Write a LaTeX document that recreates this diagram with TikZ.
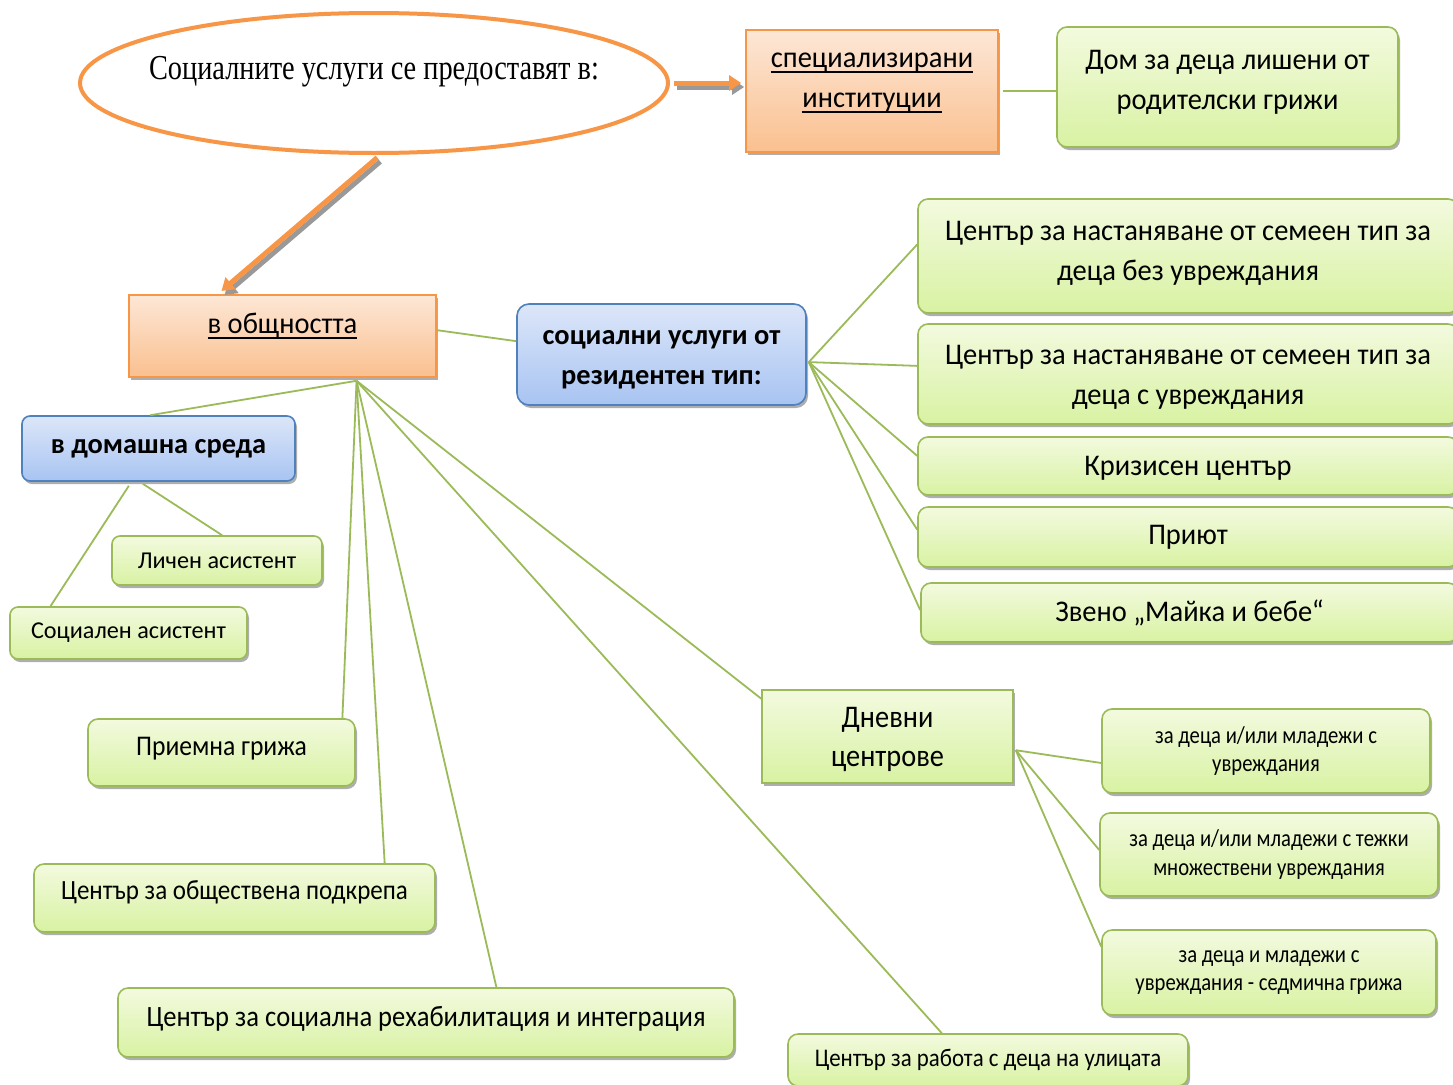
\documentclass[tikz,border=0pt]{standalone}
\usepackage{fontspec}
\setmainfont{Carlito}
\newfontfamily\tnr[FakeStretch=0.81]{Liberation Serif}
\newfontfamily\mainfnt[FakeStretch=0.95]{Carlito}
\newfontfamily\condfont[FakeStretch=0.9]{Carlito}
\newfontfamily\narrowfont[FakeStretch=0.85]{Carlito}
\newcommand{\myul}[1]{\leavevmode\setbox0=\hbox{#1}\rlap{\rule[-5.5pt]{\wd0}{1.8pt}}\box0}
\usetikzlibrary{shadows,arrows.meta,calc,shapes.geometric}
\definecolor{gtop}{HTML}{F3FADF}
\definecolor{gbot}{HTML}{D8F2A2}
\definecolor{gbrd}{HTML}{9BBB59}
\definecolor{otop}{HTML}{FDE7D6}
\definecolor{obot}{HTML}{FAC08F}
\definecolor{obrd}{HTML}{F79646}
\definecolor{btop}{HTML}{DCE6F9}
\definecolor{bbot}{HTML}{A8C4F2}
\definecolor{bbrd}{HTML}{4F81BD}
\tikzset{
  shd/.style={drop shadow={shadow xshift=2pt, shadow yshift=-3pt, fill=black!45, opacity=.7}},
  gbox/.style={rounded corners=10pt, draw=gbrd, line width=1.6pt, top color=gtop, bottom color=gbot, shd, align=center, inner sep=0pt},
  grect/.style={draw=gbrd, line width=1.6pt, top color=gtop, bottom color=gbot, shd, align=center, inner sep=0pt},
  obox/.style={draw=obrd, line width=1.6pt, top color=otop, bottom color=obot, shd, align=center, inner sep=0pt},
  bbox/.style={rounded corners=12pt, draw=bbrd, line width=1.6pt, top color=btop, bottom color=bbot, shd, align=center, inner sep=0pt},
  boldf/.style={font=\bfseries\fontsize{28.4}{40}\selectfont},
  conn/.style={draw=gbrd, line width=1.8pt},
  bigarrow/.style={draw=obrd, line width=5pt, -{Triangle[length=12pt,width=15pt]}},
  arrowshd/.style={draw=black!40, line width=5pt, -{Triangle[length=12pt,width=15pt]}, transform canvas={xshift=3pt,yshift=-4pt}},
  mainf/.style={font=\mainfnt\fontsize{30}{40}\selectfont},
  midf/.style={font=\fontsize{24.2}{30}\selectfont},
  smallf/.style={font=\narrowfont\fontsize{24.3}{28.5}\selectfont},
}
\begin{document}
\begin{tikzpicture}[x=1pt,y=-1pt]
\clip (0,0) rectangle (1453,1084);
\fill[white] (0,0) rectangle (1453,1084);
% top
\node[ellipse, draw=obrd, line width=4pt, minimum width=588pt, minimum height=140pt,
  label={[yshift=11pt, font=\tnr\fontsize{35}{40}\selectfont]center:Социалните услуги се предоставят в:}] (ell) at (374,83) {};
\node[obox, minimum width=252pt, minimum height=122pt,
  label={[yshift=8pt, align=center, mainf]center:\myul{специализирани}\\\myul{институции}}] (spec) at (872,91) {};
\node[gbox, minimum width=341pt, minimum height=120pt,
  label={[yshift=5pt, align=center, mainf]center:Дом за деца лишени от\\родителски грижи}] (dom) at (1227.5,87) {};
% community
\node[obox, minimum width=307pt, minimum height=82pt,
  label={[yshift=10pt, mainf]center:\myul{в общността}}] (obs) at (282.5,336) {};
\node[bbox, minimum width=289pt, minimum height=101pt,
  label={[yshift=-5pt, align=center, boldf]center:социални услуги от\\резидентен тип:}] (res) at (661.5,354.5) {};
\node[bbox, boldf, rounded corners=8pt, minimum width=273pt, minimum height=65pt] (home) at (158.5,448.5) {в домашна среда};
\node[gbox, midf, rounded corners=8pt, minimum width=210pt, minimum height=49pt] (lich) at (217,560.5) {Личен асистент};
\node[gbox, midf, rounded corners=8pt, minimum width=237pt, minimum height=52pt] (soc) at (128.5,633) {Социален асистент};
\node[gbox, minimum width=267pt, minimum height=67pt,
  label={[yshift=4pt, font=\condfont\fontsize{28.5}{30}\selectfont]center:Приемна грижа}] (priem) at (221.5,752.5) {};
\node[gbox, minimum width=401pt, minimum height=68pt,
  label={[yshift=6pt, font=\condfont\fontsize{27.8}{30}\selectfont]center:Център за обществена подкрепа}] (podkr) at (234.5,898) {};
\node[gbox, minimum width=616pt, minimum height=69pt,
  label={[yshift=4pt, font=\condfont\fontsize{29.5}{30}\selectfont]center:Център за социална рехабилитация и интеграция}] (rehab) at (426,1022.5) {};
\node[gbox, minimum width=400pt, minimum height=52pt, font=\condfont\fontsize{25.4}{28}\selectfont] (ulica) at (988,1060) {Център за работа с деца на улицата};
\node[grect, minimum width=251pt, minimum height=93pt,
  label={[yshift=-3pt, align=center, font=\condfont\fontsize{31.5}{39}\selectfont]center:Дневни\\центрове}] (dnev) at (887.5,736.5) {};
% residential
\node[gbox, minimum width=540pt, minimum height=114pt,
  label={[yshift=3pt, align=center, mainf]center:Център за настаняване от семеен тип за\\деца без увреждания}] (r1) at (1188,256) {};
\node[gbox, minimum width=540pt, minimum height=100pt,
  label={[yshift=-3pt, align=center, mainf]center:Център за настаняване от семеен тип за\\деца с увреждания}] (r2) at (1188,374) {};
\node[gbox, minimum width=540pt, minimum height=58pt,
  label={[yshift=-2pt, mainf]center:Кризисен център}] (r3) at (1188,466) {};
\node[gbox, mainf, minimum width=540pt, minimum height=60pt] (r4) at (1188,537) {Приют};
\node[gbox, mainf, minimum width=537pt, minimum height=59pt] (r5) at (1189.5,612.5) {Звено „Майка и бебе“};
% day centres
\node[gbox, smallf, minimum width=328pt, minimum height=84pt] (s1) at (1266,751) {за деца и/или младежи с\\увреждания};
\node[gbox, smallf, minimum width=338pt, minimum height=83pt] (s2) at (1269,854.5) {за деца и/или младежи с тежки\\множествени увреждания};
\node[gbox, smallf, minimum width=334pt, minimum height=85pt] (s3) at (1269,972.5) {за деца и младежи с\\увреждания - седмична грижа};
% hubs
\coordinate (hub1) at ($(obs.south west)!0.74!(obs.south east)+(0,3)$);
\coordinate (hub2) at ($(res.north east)!0.574!(res.south east)+(2,0)$);
\coordinate (hub3) at ($(dnev.north east)!0.645!(dnev.south east)+(2,0)$);
% arrows
\draw[arrowshd, shorten <=4pt, shorten >=4pt] (ell.east) -- (ell.east -| spec.west);
\draw[bigarrow, shorten <=4pt, shorten >=4pt] (ell.east) -- (ell.east -| spec.west);
\coordinate (a2e) at ($(obs.north west)!0.29!(obs.north east)$);
\draw[arrowshd, shorten <=4pt, shorten >=5pt] (ell.-85) -- (a2e);
\draw[bigarrow, shorten <=4pt, shorten >=5pt] (ell.-85) -- (a2e);
% connectors
\draw[conn, shorten <=4pt] (spec.east) -- (spec.east -| dom.west);
\draw[conn] ($(obs.north east)!0.43!(obs.south east)$) -- ($(res.north west)!0.37!(res.south west)$);
\draw[conn] (hub1) -- ($(home.north west)!0.47!(home.north east)$);
\draw[conn] (hub1) -- ($(priem.north west)!0.95!(priem.north east)$);
\draw[conn] (hub1) -- ($(podkr.north west)!0.873!(podkr.north east)$);
\draw[conn] (hub1) -- ($(rehab.north west)!0.614!(rehab.north east)$);
\draw[conn] (hub1) -- ($(dnev.north west)!0.1!(dnev.south west)$);
\draw[conn] (hub1) -- ($(ulica.north west)!0.385!(ulica.north east)$);
\draw[conn] ($(home.south west)!0.443!(home.south east)+(0,2)$) -- ($(lich.north west)!0.524!(lich.north east)$);
\draw[conn] ($(home.south west)!0.392!(home.south east)+(0,4)$) -- ($(soc.north west)!0.173!(soc.north east)$);
\draw[conn] (hub2) -- ($(r1.north west)!0.40!(r1.south west)$);
\draw[conn] (hub2) -- ($(r2.north west)!0.42!(r2.south west)$);
\draw[conn] (hub2) -- ($(r3.north west)!0.33!(r3.south west)$);
\draw[conn] (hub2) -- ($(r4.north west)!0.38!(r4.south west)$);
\draw[conn] (hub2) -- ($(r5.north west)!0.46!(r5.south west)$);
\draw[conn] (hub3) -- ($(s1.north west)!0.64!(s1.south west)$);
\draw[conn] (hub3) -- ($(s2.north west)!0.446!(s2.south west)$);
\draw[conn] (hub3) -- ($(s3.north west)!0.2!(s3.south west)$);
\end{tikzpicture}
\end{document}
